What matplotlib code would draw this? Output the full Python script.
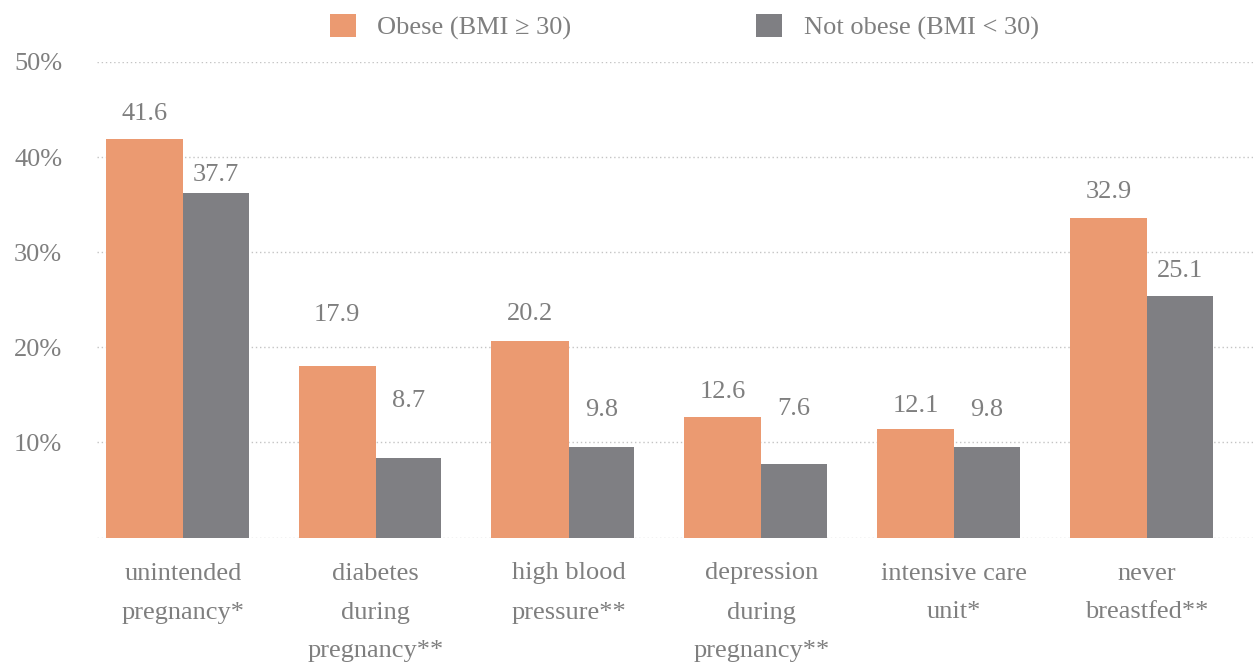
#!/usr/bin/env python3
"""Pregnancy outcomes by maternal obesity status, grouped bar chart."""

import matplotlib

matplotlib.use("Agg")
import matplotlib.pyplot as plt
from matplotlib.patches import Patch
import numpy as np

categories = [
    "unintended\npregnancy*",
    "diabetes\nduring\npregnancy**",
    "high blood\npressure**",
    "depression\nduring\npregnancy**",
    "intensive care\nunit*",
    "never\nbreastfed**",
]
series_names = ["Obese (BMI \u2265 30)", "Not obese (BMI < 30)"]

# bar heights as drawn in the source (percent)
obese = [41.9, 18.0, 20.7, 12.7, 11.4, 33.6]
not_obese = [36.2, 8.4, 9.5, 7.7, 9.5, 25.4]
# printed value labels
obese_labels = ["41.6", "17.9", "20.2", "12.6", "12.1", "32.9"]
not_obese_labels = ["37.7", "8.7", "9.8", "7.6", "9.8", "25.1"]

y_ticks = [10, 20, 30, 40, 50]

ORANGE = "#eb9a71"
GREY = "#7f7f83"
TEXT = "#7f7f7f"
GRID = "#c4c4c4"
FONT = ["Liberation Serif", "DejaVu Serif"]
FS = 19

# label gap above each bar, in points (labels in the source sit unevenly)
obese_gap = [10, 29, 11, 10, 9, 11]
not_obese_gap = [5, 33, 19, 32, 19, 10]

plt.rcParams["font.family"] = FONT

fig = plt.figure(figsize=(12.53, 6.66), dpi=100)
ax = fig.add_axes([97 / 1253, 1 - 537.5 / 666, 1 - 97 / 1253, (537.5 - 62) / 666])

x = np.arange(len(categories))
w_o, w_g = 0.4, 0.34
bars_o = ax.bar(x - w_o / 2, obese, width=w_o, color=ORANGE, zorder=2)
bars_g = ax.bar(x + w_g / 2, not_obese, width=w_g, color=GREY, zorder=2)

for bars, labels, gaps in ((bars_o, obese_labels, obese_gap), (bars_g, not_obese_labels, not_obese_gap)):
    for b, lab, gap in zip(bars, labels, gaps):
        ax.annotate(lab, (b.get_x() + b.get_width() / 2, b.get_height()),
                    xytext=(0, gap), textcoords="offset points",
                    ha="center", va="bottom", fontsize=FS, color=TEXT)

# dotted grid incl. baseline
for yv in [0] + y_ticks:
    ax.axhline(yv, color=GRID, linestyle=(0, (1, 2)), linewidth=1.0, zorder=1)

ax.set_ylim(0, 50)
ax.set_xlim(-0.446, 5.55)
ax.set_yticks(y_ticks)
ax.set_yticklabels([f"{v}%" for v in y_ticks])
ax.set_xticks(x)
ax.set_xticklabels(categories, linespacing=2.0)
ax.tick_params(axis="y", length=0, pad=25, labelsize=FS, labelcolor=TEXT)
ax.tick_params(axis="x", length=0, pad=18, labelsize=FS, labelcolor=TEXT)
for s in ax.spines.values():
    s.set_visible(False)

handles = [Patch(facecolor=ORANGE), Patch(facecolor=GREY)]
fig.legend(handles, series_names, loc="center", bbox_to_anchor=(0.546, 0.9595),
           ncol=2, frameon=False, fontsize=FS, labelcolor=TEXT,
           handlelength=1.0, handleheight=1.0, handletextpad=0.8,
           columnspacing=7.0)

fig.savefig("out.png", dpi=100)
